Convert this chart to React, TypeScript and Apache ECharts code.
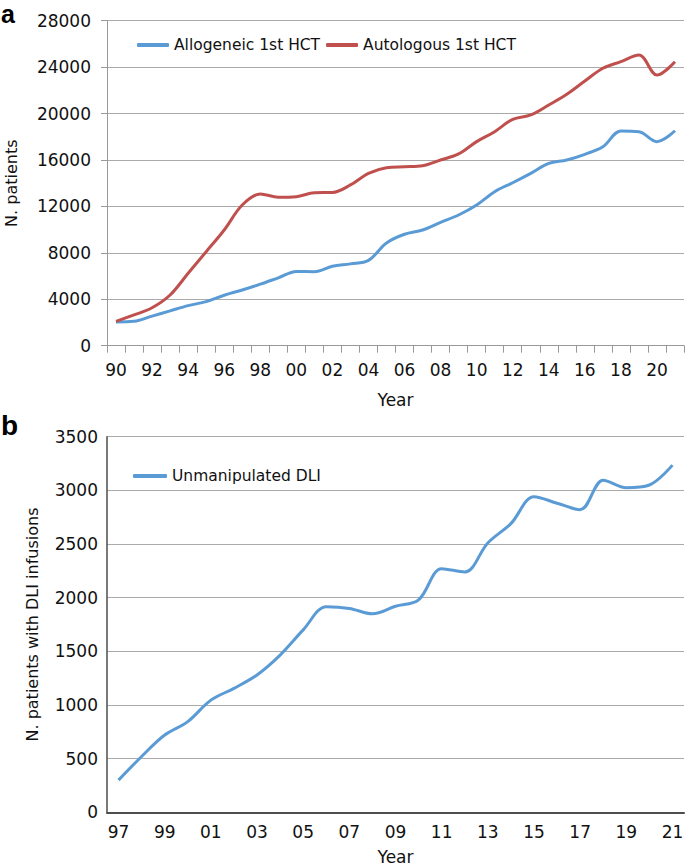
import React, { useEffect, useRef } from "react";
import * as echarts from "echarts";

// ---- Data (panel a) ----
const yearsA = [
  "1990", "1991", "1992", "1993", "1994", "1995", "1996", "1997", "1998", "1999",
  "2000", "2001", "2002", "2003", "2004", "2005", "2006", "2007", "2008", "2009",
  "2010", "2011", "2012", "2013", "2014", "2015", "2016", "2017", "2018", "2019",
  "2020", "2021",
];
const allogeneic = [
  2050, 2100, 2550, 3000, 3450, 3800, 4350, 4800, 5300, 5850,
  6400, 6380, 6850, 7050, 7350, 8850, 9600, 9970, 10630, 11260,
  12120, 13270, 14040, 14850, 15710, 16000, 16490, 17140, 18500, 18440,
  17580, 18520,
];
const autologous = [
  2100, 2650, 3270, 4370, 6240, 8100, 9970, 12120, 13070, 12790,
  12840, 13180, 13200, 13850, 14850, 15340, 15420, 15500, 16000, 16520,
  17580, 18440, 19500, 19880, 20740, 21660, 22800, 23900, 24470, 25040,
  23320, 24470,
];
const yMaxA = 28000;
const yStepA = 4000;

// ---- Data (panel b) ----
const yearsB = [
  "1997", "1998", "1999", "2000", "2001", "2002", "2003", "2004", "2005", "2006",
  "2007", "2008", "2009", "2010", "2011", "2012", "2013", "2014", "2015", "2016",
  "2017", "2018", "2019", "2020", "2021",
];
const dli = [
  300, 520, 720, 845, 1045, 1155, 1280, 1465, 1700, 1915,
  1900, 1850, 1920, 1980, 2270, 2240, 2510, 2690, 2940, 2880,
  2820, 3095, 3025, 3050, 3235,
];
const yMaxB = 3500;
const yStepB = 500;

const FONT = "DejaVu Sans";
const TXT = "#111";
const BLUE = "#5b9bd5";
const RED = "#c0504d";
const twoDigit = (v: string) => v.slice(2);
const plain = (v: number) => String(v);

export default function App() {
  const ref = useRef<HTMLDivElement>(null);
  useEffect(() => {
    if (!ref.current) return;
    const chart = echarts.init(ref.current, null, { renderer: "svg" });
    chart.setOption({
      animation: false,
      textStyle: { fontFamily: FONT, color: TXT },
      graphic: [
        {
          type: "text",
          left: 1,
          top: 1,
          style: { text: "a", font: "bold 25px 'Liberation Sans'", fill: "#000" },
        },
        {
          type: "text",
          left: 1,
          top: 411,
          style: { text: "b", font: "bold 28px 'Liberation Sans'", fill: "#000" },
        },
      ],
      legend: [
        {
          data: ["Allogeneic 1st HCT", "Autologous 1st HCT"],
          left: 132,
          top: 32,
          icon: "roundRect",
          itemWidth: 32,
          itemHeight: 4,
          itemGap: 6,
          textStyle: { fontFamily: FONT, fontSize: 15.5, color: TXT },
        },
        {
          data: ["Unmanipulated DLI"],
          left: 128,
          top: 463,
          icon: "roundRect",
          itemWidth: 34,
          itemHeight: 4,
          textStyle: { fontFamily: FONT, fontSize: 15.5, color: TXT },
        },
      ],
      grid: [
        { left: 107, right: 1, top: 20.7, height: 325, containLabel: false, outerBoundsMode: "none" },
        { left: 107, right: 1, top: 436.7, height: 375.6, containLabel: false, outerBoundsMode: "none" },
      ],
      xAxis: [
        {
          type: "category",
          gridIndex: 0,
          data: yearsA,
          boundaryGap: true,
          axisLine: { lineStyle: { color: "#999", width: 1 } },
          axisTick: { show: true, interval: 0, length: 7, lineStyle: { color: "#999" } },
          axisLabel: {
            interval: 1,
            margin: 16,
            fontSize: 17,
            fontFamily: FONT,
            color: TXT,
            formatter: twoDigit,
          },
          name: "Year",
          nameLocation: "middle",
          nameGap: 46,
          nameTextStyle: { fontSize: 17, fontFamily: FONT, color: TXT },
        },
        {
          type: "category",
          gridIndex: 1,
          data: yearsB,
          boundaryGap: true,
          axisLine: { lineStyle: { color: "#4d4d4d", width: 2 } },
          axisTick: { show: false },
          axisLabel: {
            interval: 1,
            margin: 11,
            fontSize: 17,
            fontFamily: FONT,
            color: TXT,
            formatter: twoDigit,
          },
          name: "Year",
          nameLocation: "middle",
          nameGap: 36,
          nameTextStyle: { fontSize: 17, fontFamily: FONT, color: TXT },
        },
      ],
      yAxis: [
        {
          type: "value",
          gridIndex: 0,
          min: 0,
          max: yMaxA,
          interval: yStepA,
          axisLine: { show: true, lineStyle: { color: "#999", width: 1 } },
          axisTick: { show: true, length: 6, lineStyle: { color: "#999" } },
          axisLabel: { margin: 16, fontSize: 17, fontFamily: FONT, color: TXT, formatter: plain },
          splitLine: { lineStyle: { color: "#aaa", width: 1 } },
          name: "N. patients",
          nameLocation: "middle",
          nameGap: 88,
          nameTextStyle: { fontSize: 16, fontFamily: FONT, color: TXT },
        },
        {
          type: "value",
          gridIndex: 1,
          min: 0,
          max: yMaxB,
          interval: yStepB,
          axisLine: { show: true, lineStyle: { color: "#4d4d4d", width: 1.5 } },
          axisTick: { show: false },
          axisLabel: { margin: 9, fontSize: 17, fontFamily: FONT, color: TXT, formatter: plain },
          splitLine: { lineStyle: { color: "#aaa", width: 1 } },
          name: "N. patients with DLI infusions",
          nameLocation: "middle",
          nameGap: 67,
          nameTextStyle: { fontSize: 16, fontFamily: FONT, color: TXT },
        },
      ],
      series: [
        {
          name: "Allogeneic 1st HCT",
          type: "line",
          xAxisIndex: 0,
          yAxisIndex: 0,
          data: allogeneic,
          smooth: 0.35,
          showSymbol: false,
          color: BLUE,
          lineStyle: { color: BLUE, width: 3 },
        },
        {
          name: "Autologous 1st HCT",
          type: "line",
          xAxisIndex: 0,
          yAxisIndex: 0,
          data: autologous,
          smooth: 0.35,
          showSymbol: false,
          color: RED,
          lineStyle: { color: RED, width: 3 },
        },
        {
          name: "Unmanipulated DLI",
          type: "line",
          xAxisIndex: 1,
          yAxisIndex: 1,
          data: dli,
          smooth: 0.35,
          showSymbol: false,
          color: BLUE,
          lineStyle: { color: BLUE, width: 3 },
        },
      ],
    });
    return () => chart.dispose();
  }, []);
  return (
    <div
      ref={ref}
      style={{ position: "absolute", left: 0, top: 0, width: 685, height: 868 }}
    />
  );
}
